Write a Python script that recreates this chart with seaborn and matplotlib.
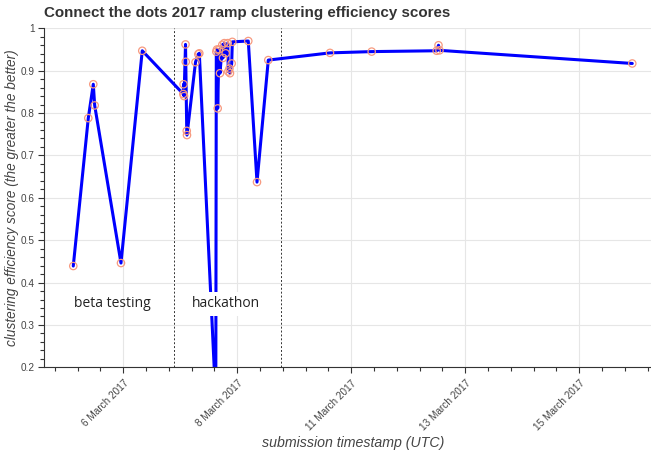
import pandas as pd
import matplotlib
matplotlib.use('Agg')
import matplotlib.pyplot as plt
import matplotlib.dates as mdates
import matplotlib.ticker as mticker
import seaborn as sns

# submission timestamps (UTC) and clustering efficiency scores
timestamps = [
    '2017-03-05 11:11', '2017-03-05 18:30', '2017-03-05 20:56', '2017-03-05 21:37',
    '2017-03-06 10:26', '2017-03-06 20:48',
    '2017-03-07 16:48', '2017-03-07 16:55', '2017-03-07 17:10', '2017-03-07 17:53',
    '2017-03-07 18:00', '2017-03-07 18:29', '2017-03-07 18:36', '2017-03-07 22:45',
    '2017-03-08 00:06', '2017-03-08 00:36', '2017-03-08 08:38', '2017-03-08 08:53',
    '2017-03-08 09:13', '2017-03-08 09:34', '2017-03-08 10:11', '2017-03-08 10:41',
    '2017-03-08 11:48', '2017-03-08 12:08', '2017-03-08 12:46', '2017-03-08 13:27',
    '2017-03-08 14:26', '2017-03-08 14:44', '2017-03-08 15:18', '2017-03-08 15:33',
    '2017-03-08 16:23', '2017-03-08 16:41', '2017-03-09 00:28', '2017-03-09 04:43',
    '2017-03-09 10:13', '2017-03-10 16:17', '2017-03-11 12:36', '2017-03-12 20:17',
    '2017-03-12 21:10', '2017-03-12 21:39', '2017-03-16 19:36',
]
scores = [
    0.439, 0.788, 0.868, 0.818,
    0.446, 0.947,
    0.845, 0.868, 0.840, 0.962,
    0.921, 0.758, 0.748, 0.920,
    0.939, 0.941, 0.120, 0.945,
    0.950, 0.811, 0.950, 0.894,
    0.961, 0.930, 0.965, 0.941,
    0.965, 0.898, 0.905, 0.894,
    0.917, 0.968, 0.970, 0.637,
    0.925, 0.942, 0.945, 0.947,
    0.960, 0.948, 0.917,
]

# major x ticks sit on multiples of 2e8 ms (epoch seconds here)
tick_epochs = [1488800000, 1489000000, 1489200000, 1489400000, 1489600000]
hackathon_bounds = ['2017-03-07 12:27', '2017-03-09 16:39']
x_range = ['2017-03-04 20:55', '2017-03-17 10:05']

df = pd.DataFrame({'timestamp': pd.to_datetime(timestamps), 'score': scores})

sns.set_theme(style='white')
plt.rcParams['font.family'] = ['Liberation Sans', 'DejaVu Sans']

fig = plt.figure(figsize=(6.51, 4.51), dpi=100)
ax = fig.add_axes([44 / 651, 83.7 / 451, 618 / 651, 339 / 451])

sns.lineplot(data=df, x='timestamp', y='score', color='#0000ff', lw=2.2, ax=ax, zorder=3)
sns.scatterplot(data=df, x='timestamp', y='score', s=28, facecolor='none',
                edgecolor='#f79a80', linewidth=0.9, ax=ax, zorder=4)

for b in hackathon_bounds:
    ax.axvline(pd.Timestamp(b), color='#333333', lw=0.7, ls=(0, (2, 2)), zorder=2)

# ticks
ax.set_xticks(pd.to_datetime(tick_epochs, unit='s'))
ax.xaxis.set_major_formatter(mdates.DateFormatter('%-d %B %Y'))
ax.set_xticks(pd.to_datetime(list(range(1488640000, 1489800001, 40000)), unit='s'), minor=True)
ax.yaxis.set_major_locator(mticker.MultipleLocator(0.1))
ax.yaxis.set_minor_locator(mticker.MultipleLocator(0.02))
ax.yaxis.set_major_formatter(mticker.FuncFormatter(lambda v, p: f'{v:g}'))
ax.tick_params(which='major', direction='out', length=4.5, width=0.8, color='#333333',
               labelsize=7.2, labelcolor='#444444', bottom=True, left=True)
ax.tick_params(which='minor', direction='out', length=3, width=0.8, color='#333333',
               bottom=True, left=True)
ax.tick_params(axis='y', which='major', pad=2)
plt.setp(ax.get_xticklabels(), rotation=45, ha='right', rotation_mode='anchor')

# limits last, so the tick lists do not stretch the view
ax.set_xlim(pd.Timestamp(x_range[0]), pd.Timestamp(x_range[1]))
ax.set_ylim(0.2, 1)

ax.grid(True, which='major', color='#e6e6e6', lw=0.8)
ax.set_axisbelow(True)
for side in ['top', 'right']:
    ax.spines[side].set_visible(False)
for side in ['left', 'bottom']:
    ax.spines[side].set_color('#333333')
    ax.spines[side].set_linewidth(0.8)

ax.set_title('Connect the dots 2017 ramp clustering efficiency scores', loc='left',
             fontsize=10.9, fontweight='bold', color='#333333', pad=8)
ax.set_xlabel('submission timestamp (UTC)', fontsize=10.2, style='italic', color='#444444',
              labelpad=2)
ax.set_ylabel('clustering efficiency score (the greater the better)', fontsize=9.8,
              style='italic', color='#444444')
ax.yaxis.set_label_coords(-0.041, 0.5)

ax.text(0.11, 0.187, 'beta testing', transform=ax.transAxes, ha='center', va='center',
        fontsize=10, family='Open Sans', color='#222222', zorder=5)
ax.text(0.2945, 0.187, 'hackathon', transform=ax.transAxes, ha='center', va='center',
        fontsize=10, family='Open Sans', color='#222222', zorder=5,
        bbox=dict(fc='white', ec='none', pad=3))

fig.savefig('out.png', dpi=100)
